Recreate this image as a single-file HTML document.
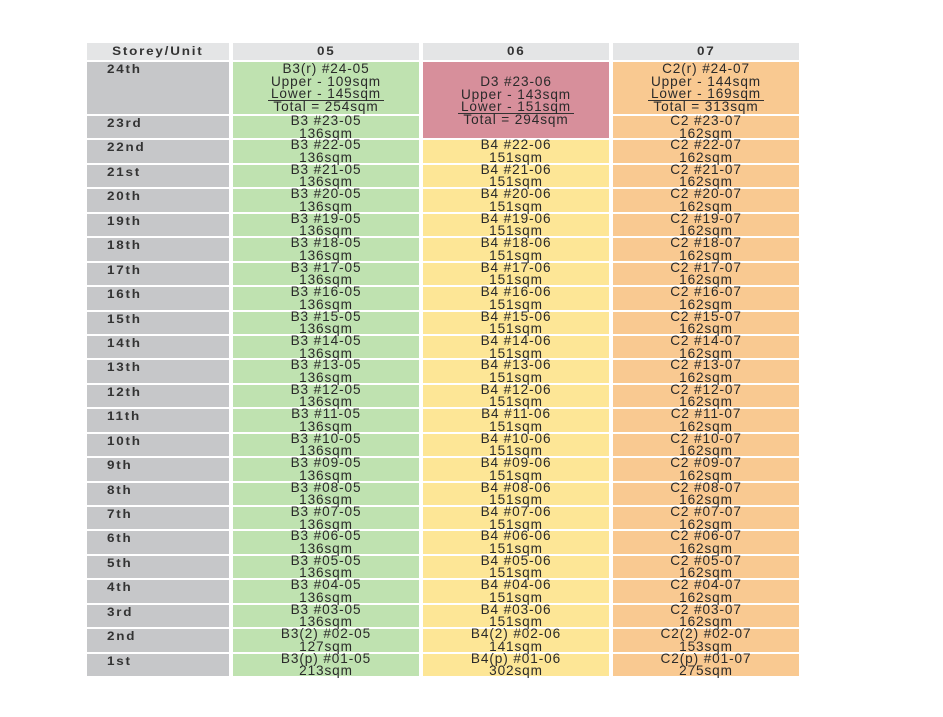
<!DOCTYPE html>
<html><head><meta charset="utf-8"><style>
body{margin:0;width:943px;height:717px;background:#fff;overflow:hidden;font-family:"Liberation Sans",Arial,sans-serif;}
.g0{position:absolute;left:87px;top:43px;display:grid;grid-template-columns:142px 186px 186px 186px;grid-template-rows:17px 52px repeat(23,22.45px);column-gap:4px;row-gap:2px;}
.g0>div{text-align:center;color:#2a2a2a;font-size:13.6px;letter-spacing:0.9px;line-height:12.6px;overflow:visible;white-space:nowrap;}
.g0>div.h{background:#e4e5e6;font-weight:bold;font-size:12px;line-height:17px;color:#333;letter-spacing:1.6px;}
.g0>div.s{background:#c6c7c9;text-align:left;font-weight:bold;font-size:12px;color:#333;letter-spacing:1.6px;line-height:12px;}
.s span{display:inline-block;margin-left:20px;margin-top:1px;transform:scaleX(1.12);transform-origin:left;}
.h span{display:inline-block;transform:scaleX(1.12);}
.g{background:#bfe2b0;}
.y{background:#fde696;}
.o{background:#f9c991;}
.p{background:#d78f9b;}
.t{margin-top:-1px;line-height:12.6px;}
.u{display:inline-block;border-bottom:1px solid #333;padding:0 3px;line-height:11.5px;}
</style></head><body>
<div class="g0">
<div class="h"><span>Storey/Unit</span></div><div class="h"><span>05</span></div><div class="h"><span>06</span></div><div class="h"><span>07</span></div>
<div class="s"><span>24th</span></div>
<div class="g"><div style="margin-top:1px">B3(r) #24-05<br>Upper - 109sqm<br><span class="u">Lower - 145sqm</span><br>Total = 254sqm</div></div>
<div class="p" style="grid-row:span 2"><div style="margin-top:14px">D3 #23-06<br>Upper - 143sqm<br><span class="u">Lower - 151sqm</span><br>Total = 294sqm</div></div>
<div class="o"><div style="margin-top:1px">C2(r) #24-07<br>Upper - 144sqm<br><span class="u">Lower - 169sqm</span><br>Total = 313sqm</div></div>
<div class="s"><span>23rd</span></div><div class="g"><div class="t">B3 #23-05<br>136sqm</div></div><div class="o"><div class="t">C2 #23-07<br>162sqm</div></div>
<div class="s"><span>22nd</span></div><div class="g"><div class="t">B3 #22-05<br>136sqm</div></div><div class="y"><div class="t">B4 #22-06<br>151sqm</div></div><div class="o"><div class="t">C2 #22-07<br>162sqm</div></div>
<div class="s"><span>21st</span></div><div class="g"><div class="t">B3 #21-05<br>136sqm</div></div><div class="y"><div class="t">B4 #21-06<br>151sqm</div></div><div class="o"><div class="t">C2 #21-07<br>162sqm</div></div>
<div class="s"><span>20th</span></div><div class="g"><div class="t">B3 #20-05<br>136sqm</div></div><div class="y"><div class="t">B4 #20-06<br>151sqm</div></div><div class="o"><div class="t">C2 #20-07<br>162sqm</div></div>
<div class="s"><span>19th</span></div><div class="g"><div class="t">B3 #19-05<br>136sqm</div></div><div class="y"><div class="t">B4 #19-06<br>151sqm</div></div><div class="o"><div class="t">C2 #19-07<br>162sqm</div></div>
<div class="s"><span>18th</span></div><div class="g"><div class="t">B3 #18-05<br>136sqm</div></div><div class="y"><div class="t">B4 #18-06<br>151sqm</div></div><div class="o"><div class="t">C2 #18-07<br>162sqm</div></div>
<div class="s"><span>17th</span></div><div class="g"><div class="t">B3 #17-05<br>136sqm</div></div><div class="y"><div class="t">B4 #17-06<br>151sqm</div></div><div class="o"><div class="t">C2 #17-07<br>162sqm</div></div>
<div class="s"><span>16th</span></div><div class="g"><div class="t">B3 #16-05<br>136sqm</div></div><div class="y"><div class="t">B4 #16-06<br>151sqm</div></div><div class="o"><div class="t">C2 #16-07<br>162sqm</div></div>
<div class="s"><span>15th</span></div><div class="g"><div class="t">B3 #15-05<br>136sqm</div></div><div class="y"><div class="t">B4 #15-06<br>151sqm</div></div><div class="o"><div class="t">C2 #15-07<br>162sqm</div></div>
<div class="s"><span>14th</span></div><div class="g"><div class="t">B3 #14-05<br>136sqm</div></div><div class="y"><div class="t">B4 #14-06<br>151sqm</div></div><div class="o"><div class="t">C2 #14-07<br>162sqm</div></div>
<div class="s"><span>13th</span></div><div class="g"><div class="t">B3 #13-05<br>136sqm</div></div><div class="y"><div class="t">B4 #13-06<br>151sqm</div></div><div class="o"><div class="t">C2 #13-07<br>162sqm</div></div>
<div class="s"><span>12th</span></div><div class="g"><div class="t">B3 #12-05<br>136sqm</div></div><div class="y"><div class="t">B4 #12-06<br>151sqm</div></div><div class="o"><div class="t">C2 #12-07<br>162sqm</div></div>
<div class="s"><span>11th</span></div><div class="g"><div class="t">B3 #11-05<br>136sqm</div></div><div class="y"><div class="t">B4 #11-06<br>151sqm</div></div><div class="o"><div class="t">C2 #11-07<br>162sqm</div></div>
<div class="s"><span>10th</span></div><div class="g"><div class="t">B3 #10-05<br>136sqm</div></div><div class="y"><div class="t">B4 #10-06<br>151sqm</div></div><div class="o"><div class="t">C2 #10-07<br>162sqm</div></div>
<div class="s"><span>9th</span></div><div class="g"><div class="t">B3 #09-05<br>136sqm</div></div><div class="y"><div class="t">B4 #09-06<br>151sqm</div></div><div class="o"><div class="t">C2 #09-07<br>162sqm</div></div>
<div class="s"><span>8th</span></div><div class="g"><div class="t">B3 #08-05<br>136sqm</div></div><div class="y"><div class="t">B4 #08-06<br>151sqm</div></div><div class="o"><div class="t">C2 #08-07<br>162sqm</div></div>
<div class="s"><span>7th</span></div><div class="g"><div class="t">B3 #07-05<br>136sqm</div></div><div class="y"><div class="t">B4 #07-06<br>151sqm</div></div><div class="o"><div class="t">C2 #07-07<br>162sqm</div></div>
<div class="s"><span>6th</span></div><div class="g"><div class="t">B3 #06-05<br>136sqm</div></div><div class="y"><div class="t">B4 #06-06<br>151sqm</div></div><div class="o"><div class="t">C2 #06-07<br>162sqm</div></div>
<div class="s"><span>5th</span></div><div class="g"><div class="t">B3 #05-05<br>136sqm</div></div><div class="y"><div class="t">B4 #05-06<br>151sqm</div></div><div class="o"><div class="t">C2 #05-07<br>162sqm</div></div>
<div class="s"><span>4th</span></div><div class="g"><div class="t">B3 #04-05<br>136sqm</div></div><div class="y"><div class="t">B4 #04-06<br>151sqm</div></div><div class="o"><div class="t">C2 #04-07<br>162sqm</div></div>
<div class="s"><span>3rd</span></div><div class="g"><div class="t">B3 #03-05<br>136sqm</div></div><div class="y"><div class="t">B4 #03-06<br>151sqm</div></div><div class="o"><div class="t">C2 #03-07<br>162sqm</div></div>
<div class="s"><span>2nd</span></div><div class="g"><div class="t">B3(2) #02-05<br>127sqm</div></div><div class="y"><div class="t">B4(2) #02-06<br>141sqm</div></div><div class="o"><div class="t">C2(2) #02-07<br>153sqm</div></div>
<div class="s"><span>1st</span></div><div class="g"><div class="t">B3(p) #01-05<br>213sqm</div></div><div class="y"><div class="t">B4(p) #01-06<br>302sqm</div></div><div class="o"><div class="t">C2(p) #01-07<br>275sqm</div></div>
</div>
</body></html>
